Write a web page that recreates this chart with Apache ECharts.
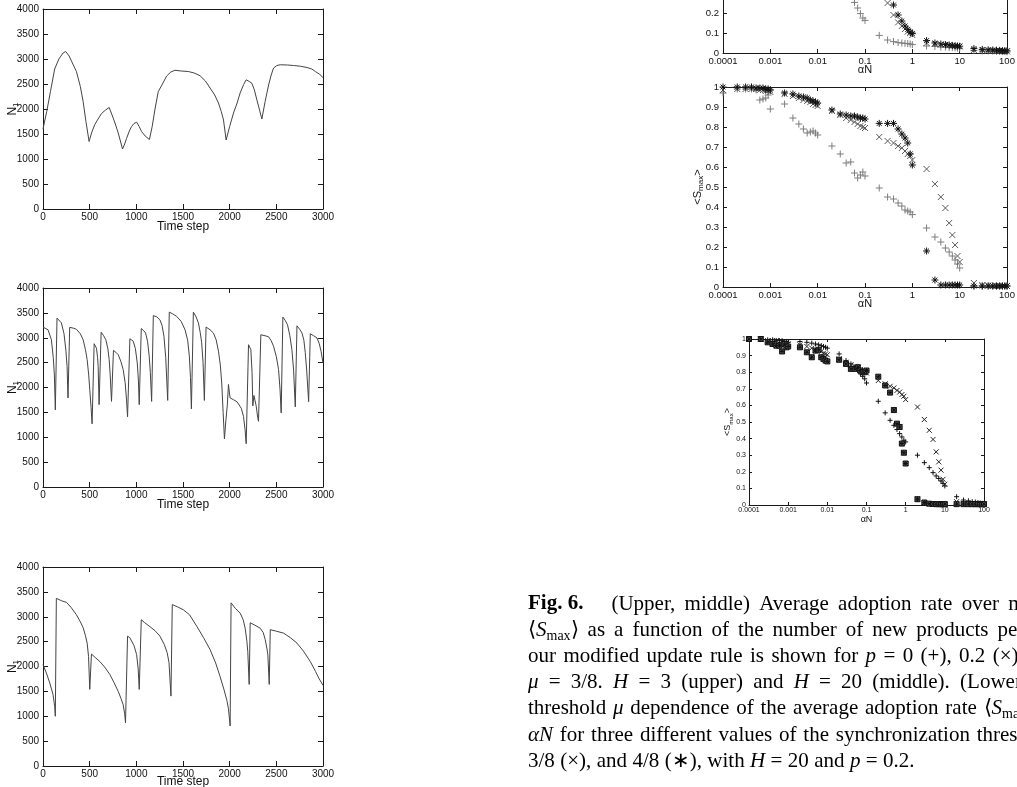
<!DOCTYPE html>
<html><head><meta charset="utf-8">
<script src="https://cdn.jsdelivr.net/npm/echarts@6/dist/echarts.min.js"></script>
<style>html,body{margin:0;padding:0;background:#fff}#c{width:1017px;height:787px}</style>
</head><body><div id="c"></div>
<script>
// ---------- Left: time series N1 vs time step ----------
const time1 = [0,40,80,125,170,215,243,280,320,358,400,430,460,494,520,555,590,627,670,709,740,775,806,835,852,875,895,925,949,975,1003,1030,1056,1095,1140,1170,1200,1235,1280,1325,1370,1414,1480,1557,1620,1683,1740,1790,1840,1880,1910,1934,1962,2000,2041,2080,2112,2150,2177,2210,2238,2265,2292,2320,2345,2380,2417,2445,2470,2505,2542,2620,2685,2760,2828,2880,2918,2960,3000];
const n1Upper = [1600,1950,2350,2800,3000,3120,3150,3060,2900,2750,2450,2150,1750,1350,1520,1690,1800,1910,1980,2030,1880,1700,1520,1320,1200,1300,1410,1560,1650,1710,1736,1650,1550,1460,1390,1650,2000,2350,2500,2660,2740,2775,2760,2750,2720,2665,2560,2420,2280,2120,1950,1780,1380,1650,1920,2120,2320,2490,2585,2550,2515,2380,2180,1980,1800,2150,2480,2680,2820,2870,2885,2880,2870,2855,2830,2800,2750,2700,2630];

const time2 = [0,54,90,110,122,132,150,197,225,245,258,268,286,330,358,400,430,455,473,490,501,515,526,548,573,585,591,601,623,650,673,695,709,720,734,755,780,806,835,859,880,895,906,931,967,990,1010,1022,1031,1053,1080,1099,1120,1138,1150,1164,1182,1220,1253,1275,1296,1315,1336,1353,1390,1432,1480,1522,1550,1568,1580,1590,1611,1640,1665,1685,1700,1715,1729,1747,1790,1826,1855,1880,1900,1915,1930,1944,1960,1975,1987,2000,2005,2041,2080,2095,2125,2148,2165,2177,2202,2227,2240,2248,2260,2270,2285,2300,2309,2334,2380,2417,2445,2470,2500,2524,2540,2552,2570,2595,2620,2645,2667,2685,2703,2721,2750,2775,2795,2810,2825,2846,2864,2900,2936,2960,2979,3000];
const n1Middle = [3215,3160,2960,2600,2250,1550,3395,3300,3080,2750,2420,1790,3210,3190,3170,3080,2960,2760,2560,2250,1960,1600,1270,2880,2790,2600,2420,1655,3110,3040,2960,2780,2560,2250,1720,2745,2710,2660,2520,2360,2100,1750,1410,2980,2930,2780,2490,2150,1655,3185,3140,3095,2930,2630,2300,1720,3445,3420,3360,3250,3030,2600,1740,3515,3480,3430,3330,3160,2950,2630,2200,1570,3515,3420,3300,3100,2900,2500,1740,3215,3160,3095,2960,2730,2450,2090,1500,965,1350,1650,2060,1850,1790,1755,1710,1690,1580,1420,1150,870,2860,2760,2300,1630,1840,1850,1620,1400,1320,3060,3040,3020,2940,2830,2620,2360,1950,1490,3415,3350,3260,3040,2760,2350,1610,3240,3170,3095,2950,2700,2350,1715,3080,3040,2995,2880,2730,2490];

const time3 = [0,40,72,107,125,132,143,200,251,300,358,400,430,455,473,488,501,519,560,609,660,716,760,806,835,859,875,884,906,930,949,975,1003,1020,1031,1053,1090,1146,1200,1253,1300,1330,1350,1371,1385,1440,1504,1570,1647,1720,1790,1850,1897,1940,1970,1987,2005,2015,2060,2112,2145,2166,2185,2194,2209,2220,2270,2327,2360,2381,2400,2409,2424,2435,2500,2578,2650,2721,2790,2864,2920,2954,3000];
const n1Lower = [2040,1850,1670,1440,1200,1000,3370,3320,3290,3190,3040,2900,2780,2620,2470,2200,1540,2250,2180,2100,1990,1840,1680,1500,1360,1230,1050,870,2610,2580,2540,2420,2240,1950,1540,2940,2880,2800,2720,2610,2440,2280,2080,1405,3245,3200,3140,3040,2810,2580,2340,2070,1800,1530,1320,1150,805,3280,3170,3075,2940,2770,2500,2300,1640,2880,2830,2770,2680,2540,2350,2240,1640,2740,2710,2670,2580,2470,2310,2100,1900,1770,1620];

const timeTicks = [0, 3000, 500];
const nTicks = [0, 4000, 500];

// ---------- Right: <S_max> vs alpha N ----------
const alphaN = [0.0001,0.0002,0.0003,0.0004,0.0005,0.0006,0.0007,0.0008,0.0009,
  0.001,0.002,0.003,0.004,0.005,0.006,0.007,0.008,0.009,
  0.01,0.02,0.03,0.04,0.05,0.06,0.07,0.08,0.09,
  0.1,0.2,0.3,0.4,0.5,0.6,0.7,0.8,0.9,
  1,2,3,4,5,6,7,8,9,
  10,20,30,40,50,60,70,80,90,
  100];

// H = 3 (upper panel, only the bottom part is visible)
const h3Plus = [null,null,null,null,null,null,null,null,null,
  null,null,null,null,null,null,null,null,null,
  null,null,null,null,null,0.253,0.225,0.197,0.175,
  0.163,0.088,0.065,0.057,0.052,0.05,0.048,0.047,0.045,
  0.042,0.035,0.033,0.03,0.03,0.028,0.027,0.026,0.025,
  0.024,0.012,0.01,0.01,0.009,0.008,0.008,0.007,0.007,
  0.006];
const h3Cross = [null,null,null,null,null,null,null,null,null,
  null,null,null,null,null,null,null,null,null,
  null,null,null,null,null,null,null,null,null,
  null,null,0.25,0.19,0.153,0.135,0.12,0.107,0.1,
  0.09,0.05,0.045,0.042,0.04,0.038,0.036,0.035,0.034,
  0.033,0.015,0.013,0.012,0.011,0.01,0.01,0.009,0.009,
  0.008];
const h3Star = [null,null,null,null,null,null,null,null,null,
  null,null,null,null,null,null,null,null,null,
  null,null,null,null,null,null,null,null,null,
  null,null,null,0.24,0.19,0.16,0.135,0.118,0.105,
  0.097,0.062,0.05,0.045,0.042,0.04,0.038,0.036,0.035,
  0.034,0.022,0.018,0.016,0.015,0.014,0.013,0.012,0.012,
  0.011];

// H = 20 (middle panel)
const h20Plus = [0.97,0.99,0.99,0.99,0.985,0.935,0.94,0.945,0.96,
  0.89,0.915,0.845,0.815,0.79,0.77,0.775,0.78,0.77,
  0.76,0.705,0.665,0.62,0.625,0.57,0.545,0.56,0.575,
  0.555,0.495,0.45,0.44,0.42,0.405,0.385,0.38,0.375,
  0.362,0.295,0.25,0.225,0.195,0.175,0.155,0.135,0.115,
  0.095,0.005,0.005,0.005,0.005,0.005,0.005,0.005,0.005,
  0.005];
const h20Cross = [0.985,0.99,0.99,0.99,0.99,0.985,0.985,0.98,0.98,
  0.975,0.965,0.955,0.945,0.935,0.93,0.925,0.915,0.91,
  0.905,0.88,0.86,0.845,0.835,0.825,0.815,0.805,0.8,
  0.795,0.75,0.73,0.72,0.705,0.695,0.68,0.665,0.655,
  0.635,0.59,0.515,0.45,0.395,0.32,0.26,0.21,0.155,
  0.125,0.02,0.01,0.008,0.006,0.005,0.005,0.005,0.005,
  0.005];
const h20Star = [1.0,1.0,1.0,1.0,0.995,0.995,0.995,0.99,0.99,
  0.985,0.97,0.965,0.955,0.95,0.945,0.935,0.93,0.925,
  0.92,0.885,0.865,0.86,0.855,0.855,0.85,0.845,0.845,
  0.84,0.818,0.818,0.818,0.79,0.765,0.745,0.72,0.665,
  0.61,0.18,0.035,0.01,0.01,0.01,0.01,0.01,0.01,
  0.01,0.005,0.005,0.005,0.005,0.005,0.005,0.005,0.005,
  0.005];

// mu dependence (lower panel): mu = 2/8 (+), 3/8 (x), 4/8 (*)
const mu2 = [1.0,1.0,0.995,0.995,0.99,0.99,0.99,0.985,0.985,
  0.98,0.985,0.98,0.975,0.97,0.965,0.96,0.955,0.95,
  0.945,0.91,0.87,0.85,0.83,0.81,0.79,0.775,0.76,
  0.735,0.625,0.555,0.51,0.48,0.455,0.43,0.41,0.39,
  0.38,0.3,0.255,0.225,0.195,0.175,0.16,0.145,0.13,
  0.115,0.05,0.03,0.025,0.02,0.018,0.015,0.012,0.01,
  0.01];
const mu3 = [1.0,1.0,0.99,0.99,0.99,0.985,0.98,0.98,0.975,
  0.97,0.965,0.955,0.945,0.935,0.93,0.925,0.915,0.91,
  0.905,0.88,0.86,0.845,0.835,0.825,0.815,0.805,0.8,
  0.795,0.75,0.73,0.715,0.705,0.69,0.68,0.665,0.655,
  0.635,0.59,0.515,0.45,0.395,0.32,0.26,0.21,0.155,
  0.125,0.02,0.01,0.008,0.006,0.005,0.005,0.005,0.005,
  0.005];
const mu4 = [1.0,1.0,0.98,0.97,0.96,0.96,0.925,0.97,0.95,
  0.955,0.95,0.92,0.89,0.93,0.935,0.89,0.88,0.87,
  0.865,0.875,0.85,0.82,0.82,0.83,0.81,0.8,0.8,
  0.81,0.773,0.72,0.677,0.572,0.49,0.47,0.37,0.315,
  0.25,0.035,0.015,0.008,0.006,0.005,0.005,0.005,0.005,
  0.005,0.005,0.005,0.005,0.005,0.005,0.005,0.005,0.005,
  0.005];

const sTicks = [0, 1, 0.1];
const aNRange = [0.0001, 100];

// ---------- caption text ----------
const captionLines = [
  '{b|Fig.\u00a06.}',
  '⟨{i|S}{s|max}⟩ as a function of the number of new products per unit time',
  'our modified update rule is shown for {i|p} = 0 (+), 0.2 (×), and 0.4 (∗), with',
  '{i|μ} = 3/8. {i|H} = 3 (upper) and {i|H} = 20 (middle). (Lower) The',
  'threshold {i|μ} dependence of the average adoption rate ⟨{i|S}{s|max}⟩ on',
  '{i|αN} for three different values of the synchronization threshold {i|μ} = 2/8 (+),',
  '3/8 (×), and 4/8 (∗), with {i|H} = 20 and {i|p} = 0.2.'
];
const captionLine1Rest = '(Upper, middle) Average adoption rate over many runs';

// ---------- styles ----------
const SANS = 'Liberation Sans';
const SERIF = 'Liberation Serif';
const AX = '#1a1a1a';
const PLUS = 'path://M5,0L5,10M0,5L10,5';
const CROSS = 'path://M0,0L10,10M10,0L0,10';
const STAR = 'path://M5,0L5,10M0,5L10,5M1.5,1.5L8.5,8.5M8.5,1.5L1.5,8.5';
const BOXSTAR = 'path://M0,0L10,0L10,10L0,10ZM5,0L5,10M0,5L10,5M0,0L10,10M10,0L0,10';

const grids = [], xAxes = [], yAxes = [], series = [];

function logFmt(v) { return String(+Number(v).toPrecision(3)); }
function linFmt(v) { return String(+Number(v).toPrecision(6)); }

function axis(gi, pos, type, range, show, s, isX) {
  const a = {
    gridIndex: gi, type: type, position: pos, min: range[0], max: range[1],
    nameMoveOverlap: false,
    axisLine: {show: true, onZero: false, lineStyle: {color: AX, width: 1}},
    axisTick: {show: true, inside: true, length: s.tick, lineStyle: {color: AX, width: 1}},
    axisLabel: {show: show, fontSize: s.fs, fontFamily: SANS, color: '#111',
      margin: isX ? s.mx : s.my},
    splitLine: {show: false}
  };
  if (type === 'value') { a.interval = range[2]; a.axisLabel.formatter = linFmt; }
  else { a.logBase = 10; a.splitNumber = 6; a.axisLabel.formatter = logFmt; }
  return a;
}

function panel(rect, xType, xr, yr, s, xGap) {
  rect.outerBoundsMode = 'none';
  rect.containLabel = false;
  grids.push(rect);
  const gi = grids.length - 1;
  const xb = axis(gi, 'bottom', xType, xr, true, s, true);
  xb.name = s.xName; xb.nameLocation = 'middle'; xb.nameGap = xGap != null ? xGap : s.xGap;
  xb.nameTextStyle = {fontFamily: SANS, fontSize: s.nfs, color: '#111'};
  const yl = axis(gi, 'left', 'value', yr, true, s, false);
  yl.name = s.yName; yl.nameLocation = 'middle'; yl.nameGap = s.yGap;
  yl.nameTextStyle = {fontFamily: SANS, fontSize: s.nfs, color: '#111', lineHeight: s.nfs + 3,
    rich: {s: {fontFamily: SANS, fontSize: Math.round(s.nfs * 0.7), color: '#111',
      lineHeight: Math.round(s.nfs * 0.7), verticalAlign: 'bottom'}}};
  xAxes.push(xb, axis(gi, 'top', xType, xr, false, s, true));
  yAxes.push(yl, axis(gi, 'right', 'value', yr, false, s, false));
  return 2 * gi;
}

const leftStyle = {fs: 10, tick: 5, mx: 3, my: 4, xName: 'Time step', xGap: 12, yName: 'N{s|1}', yGap: 23, nfs: 12};
const rightStyle = {fs: 9.5, tick: 4, mx: 3, my: 4, xName: 'αN', xGap: 11, yName: '<S{s|max}>', yGap: 18, nfs: 11};
const smallStyle = {fs: 7, tick: 3, mx: 2, my: 3, xName: 'αN', xGap: 10, yName: '<S{s|max}>', yGap: 15, nfs: 9};

function lineSeries(ai, ts, vs) {
  series.push({type: 'line', xAxisIndex: ai, yAxisIndex: ai, showSymbol: false, symbol: 'none',
    data: ts.map((t, i) => [t, vs[i]]), lineStyle: {color: '#444', width: 1}, silent: true});
}
function scatterSeries(ai, vals, sym, size, stroke, fill) {
  const data = [];
  alphaN.forEach((x, i) => { if (vals[i] != null) data.push([x, vals[i]]); });
  series.push({type: 'scatter', xAxisIndex: ai, yAxisIndex: ai, symbol: sym, symbolSize: size, data: data,
    itemStyle: {color: fill || 'rgba(0,0,0,0)', borderColor: stroke, borderWidth: 1, opacity: 1}, silent: true});
}

let ai;
ai = panel({left: 43, top: 9, width: 280, height: 200}, 'value', timeTicks, nTicks, leftStyle);
lineSeries(ai, time1, n1Upper);
ai = panel({left: 43, top: 288, width: 280, height: 199}, 'value', timeTicks, nTicks, leftStyle);
lineSeries(ai, time2, n1Middle);
ai = panel({left: 43, top: 567, width: 280, height: 199}, 'value', timeTicks, nTicks, leftStyle, 10);
lineSeries(ai, time3, n1Lower);

ai = panel({left: 723, bottom: 734, width: 284, height: 200}, 'log', aNRange, sTicks, rightStyle);
scatterSeries(ai, h3Plus, PLUS, 7, '#7d7d7d');
scatterSeries(ai, h3Cross, CROSS, 6, '#5a5a5a');
scatterSeries(ai, h3Star, STAR, 7, '#111');

ai = panel({left: 723, top: 87, width: 284, height: 200}, 'log', aNRange, sTicks, rightStyle);
scatterSeries(ai, h20Plus, PLUS, 7, '#7d7d7d');
scatterSeries(ai, h20Cross, CROSS, 6, '#5a5a5a');
scatterSeries(ai, h20Star, STAR, 7, '#111');

ai = panel({left: 749, top: 339, width: 235, height: 166}, 'log', aNRange, sTicks, smallStyle);
scatterSeries(ai, mu2, PLUS, 5, '#111');
scatterSeries(ai, mu3, CROSS, 5, '#222');
scatterSeries(ai, mu4, BOXSTAR, 5, '#111', '#777');

// ---------- caption (justified look via spacer tokens) ----------
const CFS = 21;
const spaceW = [9.3, 9, 7.4, 10.2, 6.8, 6.8, 5.4];
const capRich = {
  b: {fontFamily: SERIF, fontSize: CFS, fontWeight: 'bold', fill: '#000', lineHeight: 26},
  i: {fontFamily: SERIF, fontSize: CFS, fontStyle: 'italic', fill: '#000', lineHeight: 26},
  s: {fontFamily: SERIF, fontSize: 14, fill: '#000', lineHeight: 14, verticalAlign: 'bottom'},
  gap: {fontFamily: SERIF, fontSize: CFS, width: 28, lineHeight: 26}
};
spaceW.forEach((w, k) => { capRich['w' + k] = {fontFamily: SERIF, fontSize: CFS, width: w, lineHeight: 26}; });
const graphics = captionLines.map((t, k) => {
  let text = t.split(' ').join('{w' + k + '| }');
  if (k === 0) text += '{gap| }' + captionLine1Rest.split(' ').join('{w0| }');
  return {
    type: 'text', left: 528, top: 591 + k * 26.2, silent: true,
    style: {text: text, fontFamily: SERIF, fontSize: CFS, fill: '#000', lineHeight: 26, rich: capRich}
  };
});

const chart = echarts.init(document.getElementById('c'), null, {renderer: 'canvas'});
chart.setOption({
  animation: false,
  backgroundColor: '#fff',
  grid: grids,
  xAxis: xAxes,
  yAxis: yAxes,
  series: series,
  graphic: graphics
});
</script></body></html>
